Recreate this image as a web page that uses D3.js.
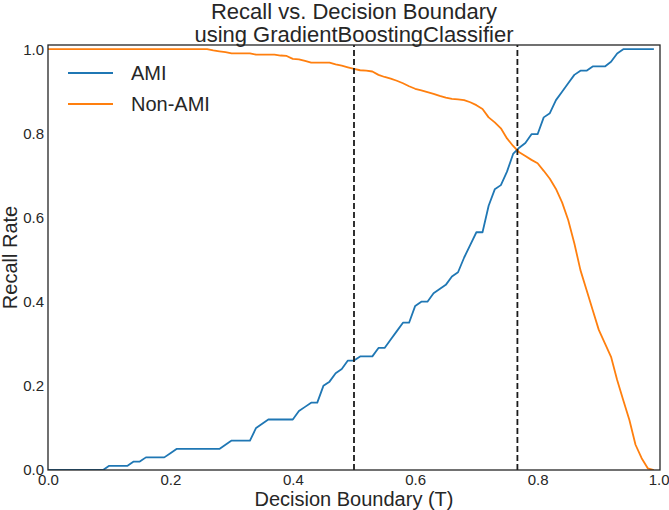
<!DOCTYPE html>
<html><head><meta charset="utf-8">
<script src="https://cdn.jsdelivr.net/npm/d3@7"></script>
<style>body{margin:0;background:#fff}svg{display:block}</style>
</head><body>
<script>
const thresholds = [0.00,0.01,0.02,0.03,0.04,0.05,0.06,0.07,0.08,0.09,0.10,0.11,0.12,0.13,0.14,0.15,0.16,0.17,0.18,0.19,0.20,0.21,0.22,0.23,0.24,0.25,0.26,0.27,0.28,0.29,0.30,0.31,0.32,0.33,0.34,0.35,0.36,0.37,0.38,0.39,0.40,0.41,0.42,0.43,0.44,0.45,0.46,0.47,0.48,0.49,0.50,0.51,0.52,0.53,0.54,0.55,0.56,0.57,0.58,0.59,0.60,0.61,0.62,0.63,0.64,0.65,0.66,0.67,0.68,0.69,0.70,0.71,0.72,0.73,0.74,0.75,0.76,0.77,0.78,0.79,0.80,0.81,0.82,0.83,0.84,0.85,0.86,0.87,0.88,0.89,0.90,0.91,0.92,0.93,0.94,0.95,0.96,0.97,0.98,0.99];
const amiRecall = [0,0,0,0,0,0,0,0,0,0,0.01,0.01,0.01,0.01,0.02,0.02,0.03,0.03,0.03,0.03,0.04,0.05,0.05,0.05,0.05,0.05,0.05,0.05,0.05,0.06,0.07,0.07,0.07,0.07,0.10,0.11,0.12,0.12,0.12,0.12,0.12,0.14,0.15,0.16,0.16,0.20,0.21,0.23,0.24,0.26,0.26,0.27,0.27,0.27,0.29,0.29,0.31,0.33,0.35,0.35,0.39,0.40,0.40,0.42,0.43,0.44,0.46,0.47,0.505,0.535,0.565,0.565,0.628,0.667,0.677,0.709,0.751,0.766,0.777,0.798,0.798,0.838,0.848,0.879,0.899,0.919,0.939,0.949,0.949,0.959,0.959,0.959,0.970,0.990,1,1,1,1,1,1];
const nonAmiRecall = [1,1,1,1,1,1,1,1,1,1,1,1,1,1,1,1,1,1,1,1,1,1,1,1,1,1,1,0.997,0.995,0.993,0.990,0.990,0.990,0.990,0.987,0.987,0.987,0.987,0.985,0.984,0.977,0.976,0.972,0.968,0.968,0.968,0.968,0.964,0.961,0.957,0.953,0.950,0.949,0.947,0.939,0.934,0.930,0.925,0.919,0.912,0.906,0.902,0.898,0.894,0.889,0.885,0.882,0.881,0.879,0.874,0.867,0.858,0.838,0.826,0.812,0.788,0.770,0.755,0.746,0.737,0.729,0.711,0.692,0.668,0.636,0.594,0.539,0.475,0.428,0.380,0.333,0.301,0.269,0.214,0.166,0.119,0.060,0.028,0.004,0];
const boundaries = [0.5, 0.767];
const seriesNames = ["AMI", "Non-AMI"];
const colors = ["#1f77b4", "#ff7f0e"];
const xTicks = [0.0,0.2,0.4,0.6,0.8,1.0];
const yTicks = [0.0,0.2,0.4,0.6,0.8,1.0];
const titleLines = ["Recall vs. Decision Boundary", "using GradientBoostingClassifier"];

const W = 669, H = 510;
const m = {left: 48, right: 9, top: 45, bottom: 40};
const font = "'Liberation Sans', Arial, sans-serif";
const ink = "#262626";

const svg = d3.select("body").append("svg").attr("width", W).attr("height", H)
  .style("font-family", font);

const x = d3.scaleLinear().domain([0, 1]).range([m.left, W - m.right]);
const y = d3.scaleLinear().domain([0, 1.01]).range([H - m.bottom, m.top]);

svg.append("clipPath").attr("id", "c").append("rect")
  .attr("x", x(0)).attr("y", y(1.01)).attr("width", x(1) - x(0)).attr("height", y(0) - y(1.01));

const line = d3.line().x((d, i) => x(thresholds[i])).y(d => y(d));
const g = svg.append("g").attr("clip-path", "url(#c)");
[amiRecall, nonAmiRecall].forEach((s, i) => {
  g.append("path").datum(s).attr("d", line).attr("fill", "none")
    .attr("stroke", colors[i]).attr("stroke-width", 1.8).attr("stroke-linejoin", "round");
});

g.selectAll("line.b").data(boundaries).join("line")
  .attr("x1", d => x(d)).attr("x2", d => x(d))
  .attr("y1", y(0)).attr("y2", y(1.01))
  .attr("stroke", "#1a1a1a").attr("stroke-width", 1.8).attr("stroke-dasharray", "6,3");

// axes
const xAxis = d3.axisBottom(x).tickValues(xTicks).tickFormat(d3.format(".1f")).tickSize(0).tickPadding(4);
const yAxis = d3.axisLeft(y).tickValues(yTicks).tickFormat(d3.format(".1f")).tickSize(0).tickPadding(4);
const gx = svg.append("g").attr("transform", `translate(0,${y(0)})`).call(xAxis);
const gy = svg.append("g").attr("transform", `translate(${x(0)},0)`).call(yAxis);
[gx, gy].forEach(a => {
  a.select(".domain").remove();
  a.selectAll("text").attr("fill", ink).style("font-size", "15px").style("font-family", font);
});
gx.selectAll(".tick text").attr("text-anchor", (d, i) => i === xTicks.length - 1 ? "end" : "middle")
  .attr("dx", (d, i) => i === xTicks.length - 1 ? "9" : "0");

// frame
svg.append("rect").attr("x", x(0)).attr("y", y(1.01)).attr("width", x(1) - x(0)).attr("height", y(0) - y(1.01))
  .attr("fill", "none").attr("stroke", ink).attr("stroke-width", 1.3);

// title
svg.append("g").selectAll("text").data(titleLines).join("text")
  .attr("x", (x(0) + x(1)) / 2).attr("y", (d, i) => 19 + i * 23)
  .attr("text-anchor", "middle").attr("fill", ink).style("font-size", "22px").text(d => d);

// axis labels
svg.append("text").attr("x", (x(0) + x(1)) / 2).attr("y", 506)
  .attr("text-anchor", "middle").attr("fill", ink).style("font-size", "20px").text("Decision Boundary (T)");
svg.append("text").attr("transform", `translate(17,${(y(0) + y(1.01)) / 2}) rotate(-90)`)
  .attr("text-anchor", "middle").attr("fill", ink).style("font-size", "20px").text("Recall Rate");

// legend
const leg = svg.append("g");
seriesNames.forEach((n, i) => {
  const ly = 73 + i * 31;
  leg.append("line").attr("x1", 68).attr("x2", 113).attr("y1", ly).attr("y2", ly)
    .attr("stroke", colors[i]).attr("stroke-width", 1.8);
  leg.append("text").attr("x", 131).attr("y", ly + 7).attr("fill", ink)
    .style("font-size", "20px").text(n);
});
</script>
</body></html>
